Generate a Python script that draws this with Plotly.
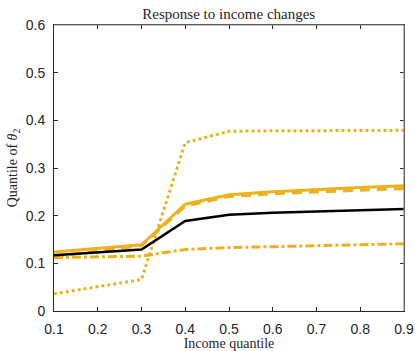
import plotly.graph_objects as go

income_q = [0.1, 0.3, 0.4, 0.5, 0.6, 0.7, 0.8, 0.9]
black_solid = [0.117, 0.129, 0.189, 0.202, 0.206, 0.209, 0.212, 0.214]
orange_solid = [0.124, 0.139, 0.224, 0.244, 0.250, 0.255, 0.259, 0.263]
orange_dash = [0.114, 0.137, 0.220, 0.240, 0.246, 0.250, 0.254, 0.257]
orange_dashdot = [0.112, 0.115, 0.129, 0.133, 0.135, 0.137, 0.139, 0.141]
orange_dot = [0.036, 0.066, 0.353, 0.377, 0.378, 0.378, 0.379, 0.379]

x_ticks = [0.1, 0.2, 0.3, 0.4, 0.5, 0.6, 0.7, 0.8, 0.9]
x_ticklabels = ["0.1", "0.2", "0.3", "0.4", "0.5", "0.6", "0.7", "0.8", "0.9"]
y_ticks = [0, 0.1, 0.2, 0.3, 0.4, 0.5, 0.6]
y_ticklabels = ["0", "0.1", "0.2", "0.3", "0.4", "0.5", "0.6"]

ORANGE = "#EDB120"
SERIF = "Liberation Serif, serif"
W, H = 415, 351
ML, MR, MT, MB = 53.5, 11, 25, 39.7

fig = go.Figure()
fig.add_trace(go.Scatter(x=income_q, y=orange_dot, mode="lines",
                         line=dict(color=ORANGE, width=3, dash="dot")))
fig.add_trace(go.Scatter(x=income_q, y=orange_dashdot, mode="lines",
                         line=dict(color=ORANGE, width=3, dash="dashdot")))
fig.add_trace(go.Scatter(x=income_q, y=orange_dash, mode="lines",
                         line=dict(color=ORANGE, width=3, dash="10px,7px")))
fig.add_trace(go.Scatter(x=income_q, y=orange_solid, mode="lines",
                         line=dict(color=ORANGE, width=3)))
fig.add_trace(go.Scatter(x=income_q, y=black_solid, mode="lines",
                         line=dict(color="black", width=2.5)))

axis_common = dict(
    showgrid=False, zeroline=False, showline=True, linecolor="#262626",
    linewidth=1, mirror="ticks", ticks="inside", ticklen=4, tickcolor="#262626",
    automargin=False,
    tickfont=dict(family="Liberation Sans, Arial, sans-serif", size=14, color="#262626"),
)

fig.update_layout(
    width=W, height=H,
    margin=dict(l=ML, r=MR, t=MT, b=MB),
    paper_bgcolor="white", plot_bgcolor="white",
    showlegend=False,
    hovermode=False,
    title=dict(text="Response to income changes", x=(ML + W - MR) / 2 / W, xanchor="center",
               y=1 - 13.5 / H, yanchor="middle",
               font=dict(family=SERIF, size=15, color="#262626")),
    xaxis=dict(range=[0.1, 0.9], tickvals=x_ticks, ticktext=x_ticklabels,
               ticklabelstandoff=5,
               title=dict(text="Income quantile", standoff=1,
                          font=dict(family=SERIF, size=14, color="#262626")),
               **axis_common),
    yaxis=dict(range=[0, 0.6], tickvals=y_ticks, ticktext=y_ticklabels,
               ticklabelstandoff=5,
               title=dict(text="Quantile of <i>θ</i><sub>2</sub>", standoff=4,
                          font=dict(family=SERIF, size=14, color="#262626")),
               **axis_common),
)

# grey top and right box edges (MATLAB style)
fig.add_shape(type="line", xref="paper", yref="paper", x0=0, x1=1, y0=1, y1=1,
              line=dict(color="#8c8c8c", width=1.2))
fig.add_shape(type="line", xref="paper", yref="paper", x0=1, x1=1, y0=0, y1=1,
              line=dict(color="#8c8c8c", width=1.2))

fig.write_html("out.html",
               config={"displayModeBar": False},
               post_script="document.body.style.margin='0';document.body.style.overflow='hidden';")
